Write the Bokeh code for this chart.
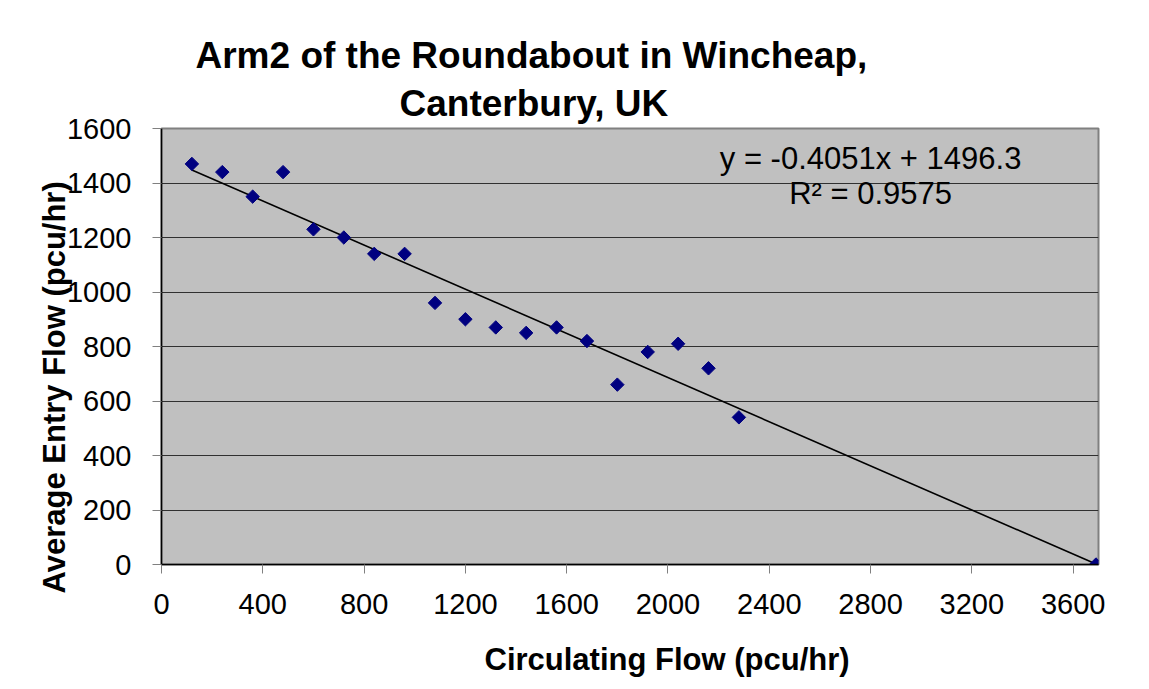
from bokeh.plotting import figure
from bokeh.models import Label, FixedTicker, Range1d, Title
from bokeh.embed import file_html
from bokeh.resources import INLINE
import math

# ---- data ----
circulating_flow = [120, 240, 360, 480, 600, 720, 840, 960, 1080, 1200,
                    1320, 1440, 1560, 1680, 1800, 1920, 2040, 2160, 2280, 3690]
entry_flow = [1470, 1440, 1350, 1440, 1230, 1200, 1140, 1140, 960, 900,
              870, 850, 870, 820, 660, 780, 810, 720, 540, 0]
trend_slope = -0.4051
trend_intercept = 1496.3
r_squared = 0.9575
x_ticks = [0, 400, 800, 1200, 1600, 2000, 2400, 2800, 3200, 3600]
y_ticks = [0, 200, 400, 600, 800, 1000, 1200, 1400, 1600]

title_lines = ["Arm2 of the Roundabout in Wincheap,", "Canterbury, UK"]
x_title = "Circulating Flow (pcu/hr)"
y_title = "Average Entry Flow (pcu/hr)"

FONT = "Liberation Sans"

p = figure(frame_width=937, frame_height=436,
           min_border_left=161, min_border_right=45,
           min_border_top=128, min_border_bottom=117,
           x_range=Range1d(0, 3700), y_range=Range1d(0, 1600),
           output_backend="svg", toolbar_location=None,
           background_fill_color="#C0C0C0", border_fill_color="white")

p.outline_line_color = "#808080"
p.outline_line_width = 2

# grid
p.xgrid.grid_line_color = None
p.ygrid.grid_line_color = "#303030"
p.ygrid.grid_line_width = 1
p.ygrid.ticker = FixedTicker(ticks=y_ticks)

# axes
p.xaxis.ticker = FixedTicker(ticks=x_ticks)
p.yaxis.ticker = FixedTicker(ticks=y_ticks)
for ax in (p.xaxis[0], p.yaxis[0]):
    ax.axis_line_color = "black"
    ax.axis_line_width = 1.5
    ax.major_tick_line_color = "#808080"
    ax.major_tick_in = 0
    ax.major_tick_out = 9
    ax.minor_tick_line_color = None
    ax.major_label_text_font = FONT
    ax.major_label_text_font_size = "29px"
    ax.major_label_text_color = "black"
p.xaxis.major_label_standoff = 20
p.yaxis.major_label_standoff = 21

# trend line
tx = [min(circulating_flow), max(circulating_flow)]
ty = [trend_slope * v + trend_intercept for v in tx]
p.line(tx, ty, line_color="black", line_width=1.6)

# points
p.scatter(circulating_flow, entry_flow, marker="square", angle=math.pi / 4,
          size=9.5, fill_color="#000080", line_color="#000080")

# chart title (two lines, line 2 nearest the frame)
t2 = Title(text=title_lines[1], align="left", offset=238, standoff=10,
           text_font=FONT, text_font_size="37px", text_font_style="bold",
           text_color="black")
t1 = Title(text=title_lines[0], align="left", offset=34, standoff=0,
           text_font=FONT, text_font_size="37px", text_font_style="bold",
           text_color="black")
p.add_layout(t2, "above")
p.add_layout(t1, "above")

# axis titles
p.add_layout(Title(text=x_title, align="left", offset=323, standoff=50,
                   vertical_align="top",
                   text_font=FONT, text_font_size="31px", text_font_style="bold",
                   text_color="black"), "below")
p.add_layout(Title(text=y_title, align="left", offset=-29, standoff=-16,
                   text_font=FONT, text_font_size="31px", text_font_style="bold",
                   text_color="black"), "left")

eq_text = "y = %.4fx + %.1f" % (trend_slope, trend_intercept)
r2_text = "R\u00b2 = %.4f" % r_squared
p.add_layout(Label(x=2800, y=1490, text=eq_text, text_font=FONT, text_color="black",
                   text_font_size="31px", text_align="center", text_baseline="middle"))
p.add_layout(Label(x=2800, y=1361, text=r2_text, text_font=FONT, text_color="black",
                   text_font_size="31px", text_align="center", text_baseline="middle"))

open("out.html", "w").write(file_html(p, INLINE))
